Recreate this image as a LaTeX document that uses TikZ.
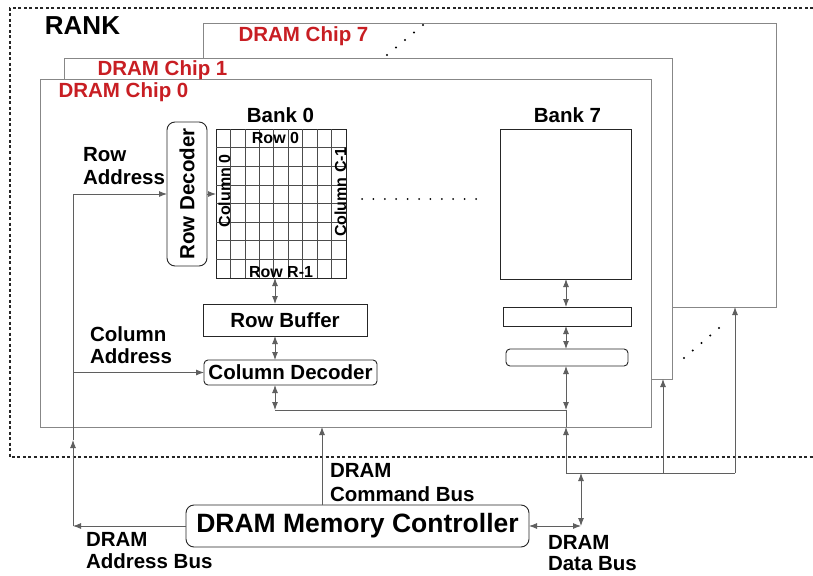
\documentclass[tikz,border=0pt]{standalone}
\usepackage{fontspec}
\setmainfont{Liberation Sans}
\usetikzlibrary{arrows.meta,calc}
\definecolor{chipred}{RGB}{200,30,35}
\definecolor{chipgray}{RGB}{135,135,135}
\definecolor{linegray}{RGB}{95,95,95}
\begin{document}
\begin{tikzpicture}[x=1pt,y=-1pt,
  every node/.style={inner sep=0pt, outer sep=0pt},
  lbl/.style={font=\fontsize{20.5}{#1}\selectfont\bfseries, align=left, anchor=north west},
  big/.style={font=\fontsize{20.5}{24}\selectfont\bfseries},
  small/.style={font=\fontsize{16}{18}\selectfont\bfseries},
  chiplbl/.style={font=\fontsize{20.5}{24}\selectfont\bfseries, text=chipred, anchor=base},
  chipbox/.style={draw=chipgray, fill=white, line width=0.9pt, anchor=north west},
  bankbox/.style={draw=black!85, line width=1pt, anchor=north west},
  blockbox/.style={draw=black!85, line width=0.9pt, anchor=north west},
  roundbox/.style={blockbox, rounded corners=4pt},
  gridln/.style={draw=black!70, line width=0.7pt},
  conn/.style={draw=linegray, line width=0.9pt},
  arr/.style={conn, -{Latex[length=8pt,width=6pt]}},
  darr/.style={conn, {Latex[length=8pt,width=6pt]}-{Latex[length=8pt,width=6pt]}},
  rankline/.style={draw=black!85, line width=1.1pt, dash pattern=on 3pt off 2.5pt}
]
\useasboundingbox (0,0) rectangle (813,575);
\fill[white] (0,0) rectangle (813,575);

% rank frame
\draw[rankline] (813,8) -- (10,8) -- (10,457) -- (813,457);
\node[font=\fontsize{26}{28}\selectfont\bfseries, anchor=base] (rank) at (82.5,35) {RANK};

% chips
\node[chipbox, minimum width=573pt, minimum height=284pt] (chip7) at (203,23) {};
\node[chipbox, minimum width=608pt, minimum height=321pt] (chip1) at (64,58) {};
\node[chipbox, minimum width=611pt, minimum height=348pt] (chip0) at (40,79) {};
\node[chiplbl] (l7) at (303.5,42) {DRAM Chip 7};
\node[chiplbl] (l1) at (162.5,76) {DRAM Chip 1};
\node[chiplbl] (l0) at (123.5,98) {DRAM Chip 0};

% dots
\foreach \t in {0,...,4} \fill ($(387,55)!\t/4!(423,25)$) circle (1.1pt);
\foreach \t in {0,...,4} \fill ($(684,358)!\t/4!(719,328)$) circle (1.1pt);
\foreach \t in {0,...,10} \fill ($(362,199)!\t/10!(476,199)$) circle (1pt);

% bank 0
\node[bankbox, minimum width=130pt, minimum height=149pt] (bank0) at (216,129) {};
\foreach \i in {1,...,8} \draw[gridln] ($(bank0.north west)!\i/9!(bank0.north east)$) -- ($(bank0.south west)!\i/9!(bank0.south east)$);
\foreach \j in {1,...,7} \draw[gridln] ($(bank0.north west)!\j/8!(bank0.south west)$) -- ($(bank0.north east)!\j/8!(bank0.south east)$);
\node[big, anchor=base] (b0lbl) at (280.5,122) {Bank 0};
\node[small, anchor=base] (r0) at (275.5,143) {Row 0};
\node[small, anchor=base] (rr) at (281,277) {Row R-1};
\node[small, anchor=base, rotate=90] (c0) at (230,191) {Column 0};
\node[small, anchor=base, rotate=90] (cc) at (346,192) {Column C-1};

\node[roundbox, rounded corners=8pt, rotate=90, anchor=center, minimum width=144pt, minimum height=40pt, big] (rowdec) at (187,194) {Row Decoder};
\node[blockbox, minimum width=164pt, minimum height=32pt, big] (rb) at (203,304) {Row Buffer};
\node[roundbox, minimum width=173pt, minimum height=25pt, big] (cd) at (204,360) {Column Decoder};

% bank 7
\node[bankbox, minimum width=131pt, minimum height=150pt] (bank7) at (500,129) {};
\node[big, anchor=base] (b7lbl) at (567.5,122) {Bank 7};
\node[blockbox, minimum width=128pt, minimum height=19pt] (rb7) at (503,307) {};
\node[roundbox, minimum width=122pt, minimum height=17pt] (cd7) at (506,349) {};

% controller
\node[roundbox, rounded corners=8pt, minimum width=343pt, minimum height=42pt, font=\fontsize{26.5}{28}\selectfont\bfseries] (ctrl) at (186,505) {DRAM Memory Controller};

% labels
\node[lbl=23] (rowaddr) at (83,147) {Row\\Address};
\node[lbl=22] (coladdr) at (90,327) {Column\\Address};
\node[lbl=24] (cmdbus) at (330,463) {DRAM\\Command Bus};
\node[lbl=22] (addrbus) at (86,532) {DRAM\\Address Bus};
\node[lbl=21.5] (databus) at (548,535) {DRAM\\Data Bus};

% address bus
\coordinate (axl) at (73,0);
\coordinate (abus) at (ctrl.west -| axl);
\coordinate (amid) at (73,440);
\draw[arr] (ctrl.west) -- (abus);
\draw[arr] (abus) -- (amid);
\draw[arr] (amid) |- (rowdec.north);
\draw[arr] (amid |- cd.west) -- (cd.west);
\draw[arr] (rowdec.south) -- (rowdec.south -| bank0.west);

% bank internal arrows
\coordinate (ax) at (275,0);
\coordinate (bx) at (566,0);
\coordinate (bus0) at (566,410);
\draw[darr] (ax |- bank0.south) -- (ax |- rb.north);
\draw[darr] (ax |- rb.south) -- (ax |- cd.north);
\draw[darr] (ax |- cd.south) -- (ax |- bus0);
\draw[conn] (ax |- bus0) -- (bus0);
\draw[darr] (bx |- bank7.south) -- (bx |- rb7.north);
\draw[darr] (bx |- rb7.south) -- (bx |- cd7.north);
\draw[darr] (bx |- cd7.south) -- (bus0);
\draw[conn] (bus0) -- (bx |- chip0.south);

% data bus
\coordinate (d0) at (566,473);
\coordinate (d1) at (663,473);
\coordinate (d7) at (735,473);
\coordinate (dc) at (581,473);
\coordinate (dcb) at (ctrl.east -| dc);
\draw[conn] (d0) -- (d7);
\draw[arr] (d0) -- (d0 |- chip0.south);
\draw[arr] (d1) -- (d1 |- chip1.south);
\draw[arr] (d7) -- (d7 |- chip7.south);
\draw[darr] (dcb) -- (dc);
\draw[darr] (ctrl.east) -- (dcb);

% command bus
\coordinate (cx) at (322,0);
\draw[arr] (cx |- ctrl.north) -- (cx |- chip0.south);
\end{tikzpicture}
\end{document}
